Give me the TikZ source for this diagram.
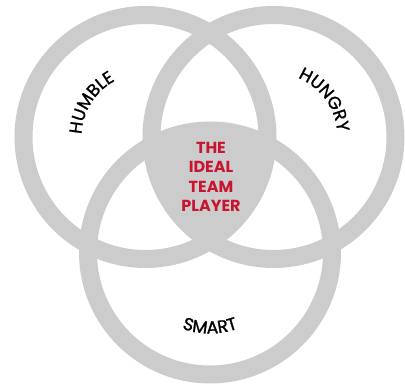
\documentclass[tikz,border=0pt]{standalone}
\usepackage{fontspec}
\setmainfont{Poppins}
\usepackage{tikz}
\usetikzlibrary{calc}
\usetikzlibrary{decorations.text}
\definecolor{ringgray}{RGB}{204,204,204}
\definecolor{teamred}{RGB}{200,22,48}
\newfontfamily\labelfont{Poppins}[FakeBold=1.2,Scale=1.75]

\begin{document}
\begin{tikzpicture}[x=1pt,y=1pt,
	ring/.style={draw=ringgray,line width=18pt},
	arclabel/.style={decorate,decoration={text along path,text align=center,
		text={|\labelfont|#1}}}]
	\useasboundingbox (0,0) rectangle (405,387);
	\coordinate (L) at (145.5,250);
	\coordinate (R) at (273.5,250);
	\coordinate (B) at (210,134.5);
	% common part of the three circles
	\begin{scope}
		\clip (L) circle (122);
		\clip (R) circle (122);
		\fill[ringgray] (B) circle (122);
	\end{scope}
	\foreach \c in {L,R,B}
		\draw[ring] (\c) circle (122);
	\node[align=center,text=teamred,font=\bfseries\fontsize{16}{19.5}\selectfont] (ideal) at (211,210) {THE\\IDEAL\\TEAM\\PLAYER};
	% curved labels
	\path[arclabel=HUMBLE] ($(L)+(198:64)$) arc[start angle=198,end angle=98,radius=64];
	\path[arclabel=HUNGRY] ($(R)+(86:64)$) arc[start angle=86,end angle=-14,radius=64];
	\path[arclabel=SMART] ($(B)+(230:81)$) arc[start angle=230,end angle=310,radius=81];
\end{tikzpicture}
\end{document}
